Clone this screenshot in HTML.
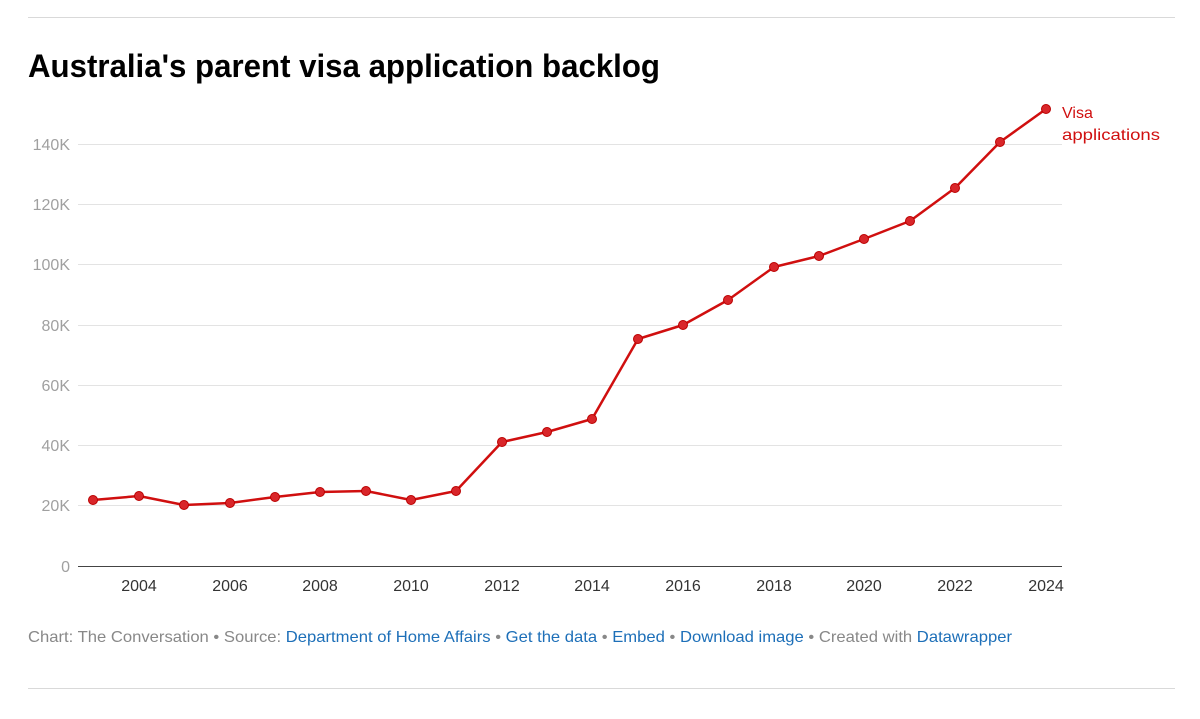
<!DOCTYPE html>
<html><head><meta charset="utf-8"><style>
body{margin:0;background:#fff;width:1200px;height:714px;overflow:hidden;font-family:"Liberation Sans",sans-serif}
</style></head><body>
<svg width="1200" height="714" xmlns="http://www.w3.org/2000/svg" font-family="Liberation Sans, sans-serif">
<line x1="28" y1="17.5" x2="1175" y2="17.5" stroke="#d9d9d9" stroke-width="1"/>
<line x1="28" y1="688.5" x2="1175" y2="688.5" stroke="#d9d9d9" stroke-width="1"/>
<text x="28" y="77" font-size="32" font-weight="bold" fill="#000" textLength="632" lengthAdjust="spacingAndGlyphs">Australia's parent visa application backlog</text>
<g stroke="#e3e3e3" stroke-width="1">
<line x1="78" x2="1062" y1="144.5" y2="144.5"/>
<line x1="78" x2="1062" y1="204.5" y2="204.5"/>
<line x1="78" x2="1062" y1="264.5" y2="264.5"/>
<line x1="78" x2="1062" y1="325.5" y2="325.5"/>
<line x1="78" x2="1062" y1="385.5" y2="385.5"/>
<line x1="78" x2="1062" y1="445.5" y2="445.5"/>
<line x1="78" x2="1062" y1="505.5" y2="505.5"/>
</g>
<line x1="78" x2="1062" y1="566.5" y2="566.5" stroke="#444" stroke-width="1"/>
<g font-size="16" fill="#a0a0a0" text-anchor="end">
<text x="70" y="150">140K</text><text x="70" y="210">120K</text><text x="70" y="270">100K</text>
<text x="70" y="331">80K</text><text x="70" y="391">60K</text><text x="70" y="451">40K</text>
<text x="70" y="511">20K</text><text x="70" y="572">0</text>
</g>
<g font-size="16" fill="#333" text-anchor="middle">
<text x="139" y="591">2004</text><text x="230" y="591">2006</text><text x="320" y="591">2008</text>
<text x="411" y="591">2010</text><text x="502" y="591">2012</text><text x="592" y="591">2014</text>
<text x="683" y="591">2016</text><text x="774" y="591">2018</text><text x="864" y="591">2020</text>
<text x="955" y="591">2022</text><text x="1046" y="591">2024</text>
</g>
<polyline fill="none" stroke="#d00f0f" stroke-width="2.5" stroke-linejoin="round" points="93,500 139,496 184,505 230,503 275,497 320,492 366,491 411,500 456,491 502,442 547,432 592,419 638,339 683,325 728,300 774,267 819,256 864,239 910,221 955,188 1000,142 1046,109"/>
<g fill="#d9262a" stroke="#b00" stroke-width="1">
<circle cx="93" cy="500" r="4.5"/><circle cx="139" cy="496" r="4.5"/><circle cx="184" cy="505" r="4.5"/><circle cx="230" cy="503" r="4.5"/><circle cx="275" cy="497" r="4.5"/><circle cx="320" cy="492" r="4.5"/><circle cx="366" cy="491" r="4.5"/><circle cx="411" cy="500" r="4.5"/><circle cx="456" cy="491" r="4.5"/><circle cx="502" cy="442" r="4.5"/><circle cx="547" cy="432" r="4.5"/><circle cx="592" cy="419" r="4.5"/><circle cx="638" cy="339" r="4.5"/><circle cx="683" cy="325" r="4.5"/><circle cx="728" cy="300" r="4.5"/><circle cx="774" cy="267" r="4.5"/><circle cx="819" cy="256" r="4.5"/><circle cx="864" cy="239" r="4.5"/><circle cx="910" cy="221" r="4.5"/><circle cx="955" cy="188" r="4.5"/><circle cx="1000" cy="142" r="4.5"/><circle cx="1046" cy="109" r="4.5"/>
</g>
<text x="1062" y="118" font-size="16" fill="#d00f0f">Visa</text>
<text x="1062" y="140" font-size="16" fill="#d00f0f" textLength="98" lengthAdjust="spacingAndGlyphs">applications</text>
<text x="28" y="642" font-size="16" fill="#888" textLength="984" lengthAdjust="spacingAndGlyphs">Chart: The Conversation • Source: <tspan fill="#1d6fb8">Department of Home Affairs</tspan> • <tspan fill="#1d6fb8">Get the data</tspan> • <tspan fill="#1d6fb8">Embed</tspan>  • <tspan fill="#1d6fb8">Download image</tspan> • Created with <tspan fill="#1d6fb8">Datawrapper</tspan></text>
</svg>
</body></html>
